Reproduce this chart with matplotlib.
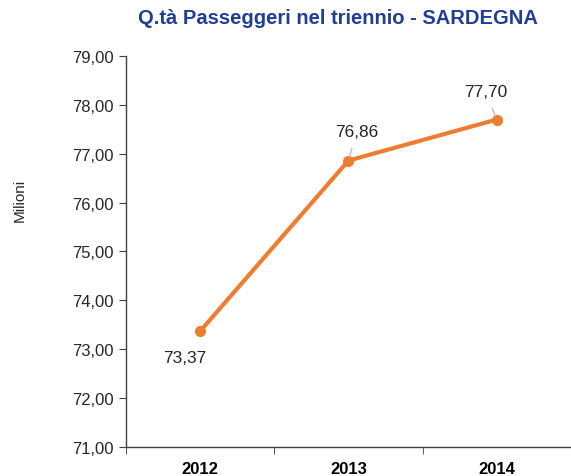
import matplotlib.pyplot as plt

plt.rcParams['font.family'] = ['Liberation Sans', 'DejaVu Sans']

anni = ['2012', '2013', '2014']
passeggeri = [73.37, 76.86, 77.70]
# label offsets in points (dx, dy) relative to each point
offsets = [(-11, -19), (6, 21), (-8, 20)]

fig = plt.figure(figsize=(5.71, 4.77), dpi=100)
ax = fig.add_axes([0.2207, 0.0608, 0.779, 0.8197])

x = range(len(anni))
ax.plot(x, passeggeri, color='#ED7D31', linewidth=3, marker='o', markersize=7)

for i, v in enumerate(passeggeri):
    lbl = f"{v:.2f}".replace('.', ',')
    dx, dy = offsets[i]
    ax.annotate(lbl, (i, v), xytext=(dx, dy), textcoords='offset points',
                ha='center', va='center', fontsize=12.5, color='#262626',
                arrowprops=dict(arrowstyle='-', color='#BFBFBF', lw=1,
                                shrinkA=5, shrinkB=3) if i > 0 else None)

ax.set_xlim(-0.5, 2.5)
ax.set_ylim(71, 79)
ax.set_yticks(range(71, 80))
ax.set_yticklabels([f"{t},00" for t in range(71, 80)], fontsize=12, color='#262626')
ax.set_xticks(x)
ax.set_xticklabels(anni, fontsize=12, fontweight='bold', color='black')
ax.set_xticks([-0.5, 0.5, 1.5, 2.5], minor=True)
ax.tick_params(axis='x', which='major', length=0, pad=10)
ax.tick_params(axis='x', which='minor', length=5, direction='out', color='#404040')
ax.tick_params(axis='y', length=5, direction='out', color='#404040', pad=4)

for s in ['top', 'right']:
    ax.spines[s].set_visible(False)
for s in ['left', 'bottom']:
    ax.spines[s].set_color('#404040')
    ax.spines[s].set_linewidth(1)

fig.text(0.035, 0.58, 'Milioni', rotation=90, ha='center', va='center',
         fontsize=11, color='#262626')
fig.text(0.592, 0.962, 'Q.tà Passeggeri nel triennio - SARDEGNA', ha='center', va='center',
         fontsize=14.5, fontweight='bold', color='#1F3E96')

fig.savefig('out.png', dpi=100)
